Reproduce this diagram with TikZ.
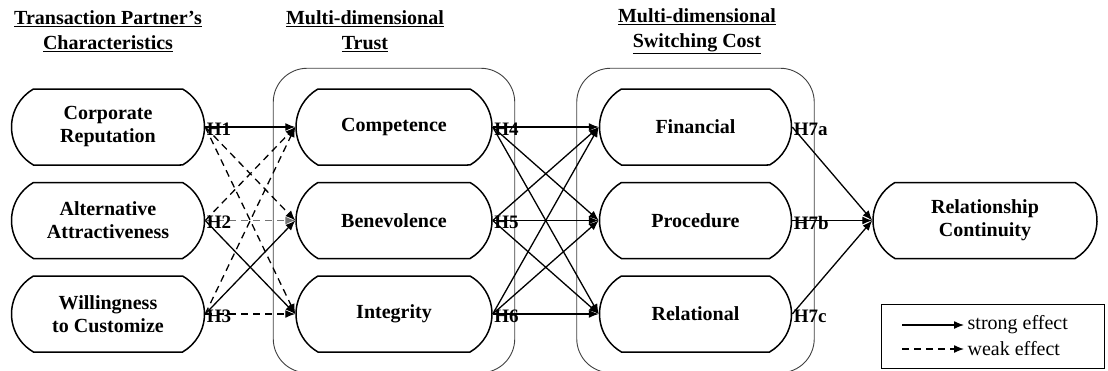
\documentclass[tikz,border=0pt]{standalone}
\usepackage{fontspec}
\setmainfont{Liberation Serif}
\usetikzlibrary{arrows.meta,positioning,fit,shapes.misc}

\begin{document}
\begin{tikzpicture}[x=1pt,y=-1pt,font=\fontsize{20}{24}\selectfont,>={Latex[length=10pt,width=8pt]},
  line width=1.3pt,node distance=16pt and 90pt,
  b/.style={draw,rounded rectangle,rounded rectangle arc length=120,minimum height=76pt,
    align=center,inner sep=2pt,line width=1.5pt,font=\fontsize{20}{23}\selectfont\bfseries},
  grp/.style={draw=black!75,rounded corners=34pt,line width=0.9pt,inner xsep=22pt,inner ysep=20pt},
  hd/.style={align=center,inner sep=0pt,font=\fontsize{20}{25}\selectfont\bfseries},
  hyp/.style={anchor=west,inner sep=1pt,yshift=-2pt,font=\fontsize{19}{19}\selectfont\bfseries},
  strong/.style={->},
  weak/.style={->,dash pattern=on 7pt off 5pt}]
\useasboundingbox (0,0) rectangle (1108,370);
% antecedents
\node[b,minimum width=197pt] (rep) at (108,127) {Corporate\\Reputation};
\node[b,minimum width=197pt,below=of rep] (alt) {Alternative\\Attractiveness};
\node[b,minimum width=197pt,below=of alt] (cust) {Willingness\\to Customize};
% trust
\node[b,minimum width=200pt,right=of rep] (comp) {Competence};
\node[b,minimum width=200pt,right=of alt] (benev) {Benevolence};
\node[b,minimum width=200pt,right=of cust] (integ) {Integrity};
% switching cost
\node[b,minimum width=196pt,right=106pt of comp] (fin) {Financial};
\node[b,minimum width=196pt,right=106pt of benev] (proc) {Procedure};
\node[b,minimum width=196pt,right=106pt of integ] (relat) {Relational};
\node[b,minimum width=228pt,right=80pt of proc] (cont) {Relationship\\Continuity};
\node[grp,fit=(comp)(integ)] (trust) {};
\node[grp,fit=(fin)(relat)] (cost) {};
% headings
\node[hd] (head1) at (108,31) {\underline{Transaction Partner's}\\\underline{Characteristics}};
\node[hd] (head2) at (365,31) {\underline{Multi-dimensional}\\\underline{Trust}};
\node[hd] (head3) at (697,31) {\underline{Multi-dimensional}\\\underline{Switching Cost}};
% H1--H3
\draw[strong] (rep.east)--(comp.west);
\draw[weak] (rep.east)--(benev.west);
\draw[weak] (rep.east)--(integ.west);
\draw[weak] (alt.east)--(comp.west);
\draw[weak,black!55] (alt.east)--(benev.west);
\draw[strong] (alt.east)--(integ.west);
\draw[weak] (cust.east)--(comp.west);
\draw[strong] (cust.east)--(benev.west);
\draw[weak] (cust.east)--(integ.west);
% H4--H7
\foreach \a in {comp,benev,integ}
  \foreach \b in {fin,proc,relat}
    \draw[strong] (\a.east)--(\b.west);
\foreach \a in {fin,proc,relat}
  \draw[strong] (\a.east)--(cont.west);
\node[hyp] (hA) at (rep.east) {H1};
\node[hyp] (hB) at (alt.east) {H2};
\node[hyp] (hC) at (cust.east) {H3};
\node[hyp] (hD) at (comp.east) {H4};
\node[hyp] (hE) at (benev.east) {H5};
\node[hyp] (hF) at (integ.east) {H6};
\node[hyp] (hG) at (fin.east) {H7a};
\node[hyp] (hH) at (proc.east) {H7b};
\node[hyp] (hI) at (relat.east) {H7c};
% legend
\node[draw,line width=0.9pt,minimum width=223pt,minimum height=64pt,inner sep=0pt] (key) at (993,336) {};
\node[anchor=west,inner sep=3pt] (se) at (964,325) {strong effect};
\node[anchor=west,inner sep=3pt] (we) at (964,349) {weak effect};
\coordinate (s0) at (902,325);
\coordinate (w0) at (902,349);
\draw[strong] (s0)--(se.west);
\draw[weak] (w0)--(we.west);
\end{tikzpicture}
\end{document}
